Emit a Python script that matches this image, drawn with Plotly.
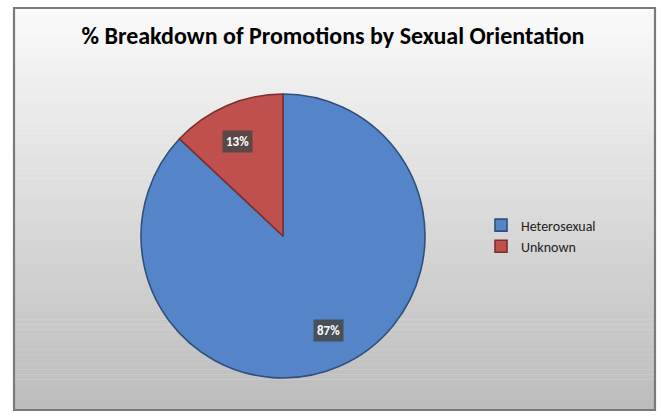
import math
import plotly.graph_objects as go

# Share of promotions by sexual orientation
categories = ["Heterosexual", "Unknown"]
shares = [87, 13]
colors = ["#5585c8", "#c0504d"]
edge_colors = ["#2f507c", "#7d2f2d"]

W, H = 661, 419

# Pie placement in pixel space (converted to paper fractions below)
cx, cy, rad = 283, 236, 142
dom_x = [(cx - rad) / W, (cx + rad) / W]
dom_y = [(H - cy - rad) / H, (H - cy + rad) / H]

fig = go.Figure()
fig.add_trace(go.Pie(
    labels=categories,
    values=shares,
    sort=False,
    direction="clockwise",
    rotation=0,
    marker=dict(colors=colors, line=dict(color=edge_colors, width=1.6)),
    textinfo="none",
    hoverinfo="label+percent",
    domain=dict(x=dom_x, y=dom_y),
))

# Chart-area background: vertical gradient built from thin bands
x0p, x1p = 14 / W, 655 / W
y_top, y_bot = 1 - 8 / H, 1 - 410 / H
shapes = []
n_bands = 80
c_top = (250, 250, 250)
c_bot = (188, 188, 188)
for i in range(n_bands):
    t = i / (n_bands - 1)
    col = tuple(round(a + (b - a) * t) for a, b in zip(c_top, c_bot))
    ya = y_top - (y_top - y_bot) * i / n_bands
    yb = y_top - (y_top - y_bot) * (i + 1) / n_bands
    shapes.append(dict(type="rect", xref="paper", yref="paper",
                       x0=x0p, x1=x1p, y0=yb, y1=ya + 0.001,
                       fillcolor="rgb(%d,%d,%d)" % col, line=dict(width=0),
                       layer="below"))
# frame around the chart area
shapes.append(dict(type="rect", xref="paper", yref="paper",
                   x0=x0p, x1=x1p, y0=y_bot, y1=y_top,
                   fillcolor="rgba(0,0,0,0)",
                   line=dict(color="#7a7a7a", width=2.2), layer="below"))

# Percentage labels inside each slice, positioned at the slice mid-angle
total = sum(shares)
annotations = []
cum = 0
for name, v in zip(categories, shares):
    mid = (cum + v / 2) / total * 2 * math.pi
    cum += v
    px = cx + rad * 0.81 * math.sin(mid)
    py = cy - rad * 0.81 * math.cos(mid)
    annotations.append(dict(
        x=px / W, y=1 - py / H, xref="paper", yref="paper",
        text="<b>%d%%</b>" % round(100 * v / total),
        showarrow=False,
        font=dict(family="Carlito, Lato, sans-serif", size=13, color="white"),
        bgcolor="rgba(70,70,70,0.85)", borderpad=3,
    ))

fig.update_layout(
    width=W, height=H,
    margin=dict(l=0, r=0, t=0, b=0),
    paper_bgcolor="white",
    plot_bgcolor="white",
    title=dict(
        text="<b>% Breakdown of Promotions by Sexual Orientation</b>",
        x=333 / W, xanchor="center",
        y=1 - 36 / H, yanchor="middle",
        font=dict(family="Carlito, Lato, sans-serif", size=24, color="black"),
    ),
    legend=dict(
        x=481 / W, y=1 - 236 / H, xanchor="left", yanchor="middle",
        font=dict(family="Carlito, Lato, sans-serif", size=14, color="#222"),
        bgcolor="rgba(0,0,0,0)",
        itemwidth=30,
    ),
    shapes=shapes,
    annotations=annotations,
)

fig.write_html("out.html")
